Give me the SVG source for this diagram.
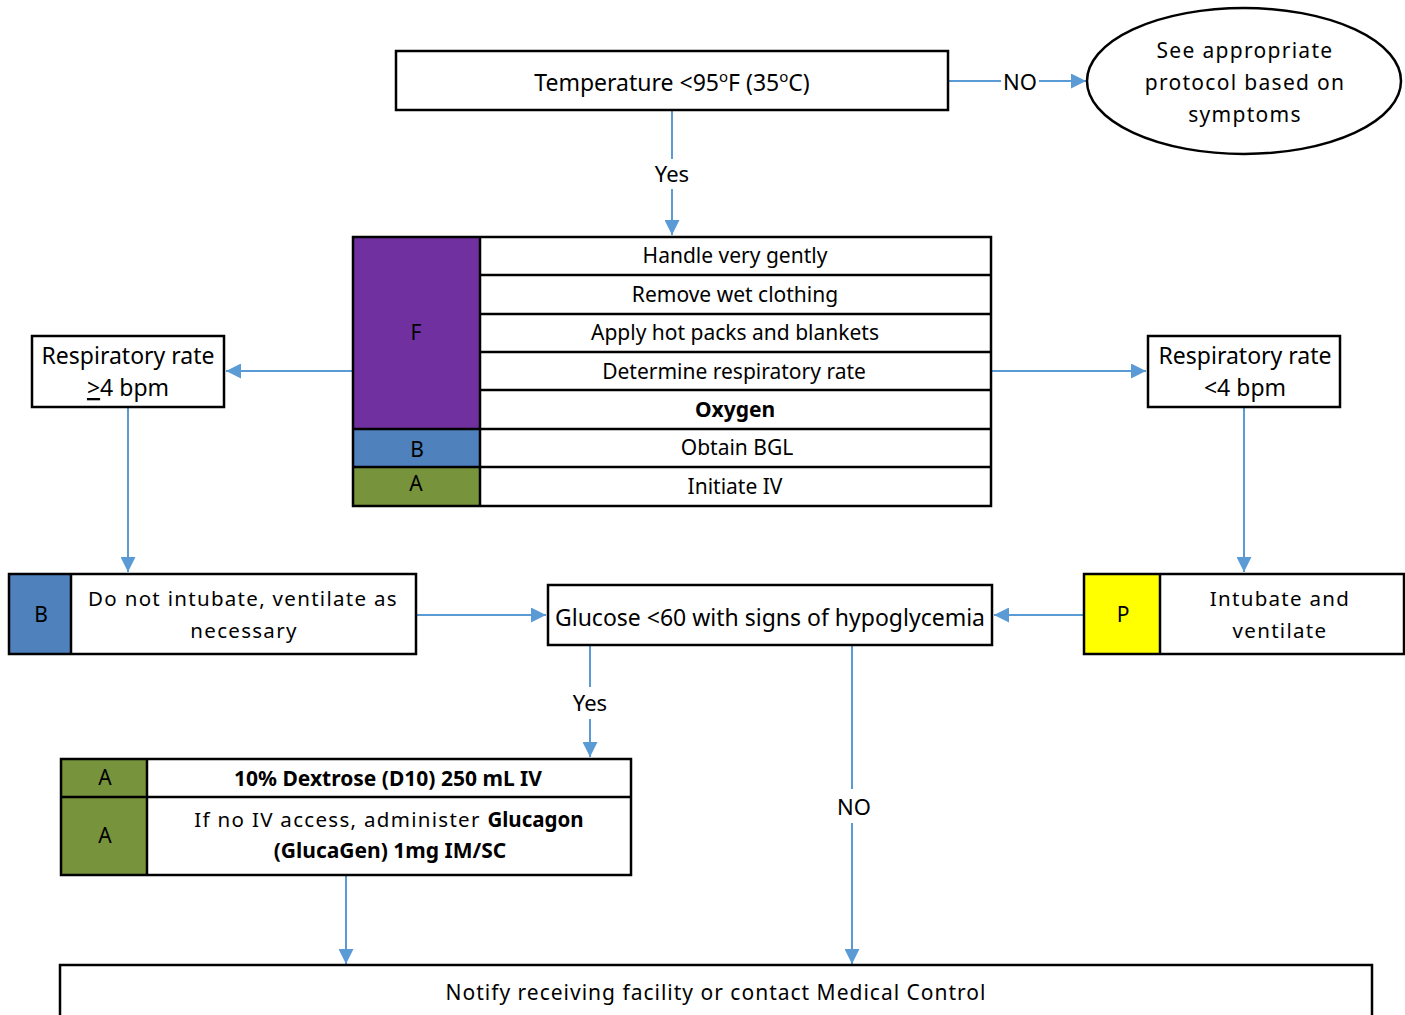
<svg xmlns="http://www.w3.org/2000/svg" width="1405" height="1015" viewBox="0 0 1405 1015">
<defs>
<marker id="ah" viewBox="0 0 10 10" refX="10" refY="5" markerWidth="8" markerHeight="7.5" orient="auto" markerUnits="strokeWidth">
<path d="M0,0 L10,5 L0,10 z" fill="#5B9BD5"/>
</marker>
<style>
.bx{fill:#fff;stroke:#000;stroke-width:2.5}
.cl{stroke:#000;stroke-width:2.5}
.t{font-family:"Noto Sans","Liberation Sans",sans-serif;font-size:21px;fill:#000;text-anchor:middle}
.l{font-size:23px}
.m{font-size:20.5px}
.b{font-weight:bold}
.sp{letter-spacing:1.3px}
.ar{stroke:#5B9BD5;stroke-width:2;fill:none;marker-end:url(#ah)}
.lb{font-family:"Noto Sans","Liberation Sans",sans-serif;font-size:22px;fill:#000;text-anchor:middle}
</style>
</defs>
<rect width="1405" height="1015" fill="#fff"/>

<g id="connectors">
<line class="ar" x1="948" y1="81" x2="1086" y2="81"/>
<rect x="1001" y="68" width="38" height="26" fill="#fff"/>
<text class="lb" x="1020" y="90">NO</text>
<line class="ar" x1="672" y1="110" x2="672" y2="235"/>
<rect x="649" y="159" width="46" height="30" fill="#fff"/>
<text class="lb" x="672" y="182">Yes</text>
<line class="ar" x1="353" y1="371" x2="226" y2="371"/>
<line class="ar" x1="991" y1="371" x2="1146" y2="371"/>
<line class="ar" x1="128" y1="407" x2="128" y2="572"/>
<line class="ar" x1="1244" y1="407" x2="1244" y2="572"/>
<line class="ar" x1="416" y1="615" x2="546" y2="615"/>
<line class="ar" x1="1084" y1="615" x2="994" y2="615"/>
<line class="ar" x1="590" y1="645" x2="590" y2="757"/>
<rect x="567" y="687" width="46" height="32" fill="#fff"/>
<text class="lb" x="590" y="711">Yes</text>
<line class="ar" x1="852" y1="645" x2="852" y2="964"/>
<rect x="831" y="789" width="44" height="34" fill="#fff"/>
<text class="lb" x="854" y="815">NO</text>
<line class="ar" x1="346" y1="875" x2="346" y2="964"/>
</g>

<g id="temperature">
<rect class="bx" x="396" y="51" width="552" height="59"/>
<text class="t l" x="672" y="91">Temperature &lt;95<tspan font-size="15" dy="-9">o</tspan><tspan dy="9">F (35</tspan><tspan font-size="15" dy="-9">o</tspan><tspan dy="9">C)</tspan></text>
</g>

<g id="see-protocol">
<ellipse cx="1244" cy="81" rx="157" ry="73" fill="#fff" stroke="#000" stroke-width="2.5"/>
<text class="t sp" x="1245" y="58">See appropriate</text>
<text class="t sp" x="1245" y="90">protocol based on</text>
<text class="t sp" x="1245" y="122">symptoms</text>
</g>

<g id="initial-care">
<rect x="353" y="237" width="127" height="192" fill="#7030A0"/>
<rect x="353" y="429" width="127" height="38" fill="#4F81BD"/>
<rect x="353" y="467" width="127" height="39" fill="#77933C"/>
<rect x="480" y="237" width="511" height="269" fill="#fff"/>
<rect x="353" y="237" width="638" height="269" fill="none" stroke="#000" stroke-width="2.5"/>
<line class="cl" x1="480" y1="237" x2="480" y2="506"/>
<line class="cl" x1="480" y1="275" x2="991" y2="275"/>
<line class="cl" x1="480" y1="314" x2="991" y2="314"/>
<line class="cl" x1="480" y1="352" x2="991" y2="352"/>
<line class="cl" x1="480" y1="390" x2="991" y2="390"/>
<line class="cl" x1="353" y1="429" x2="991" y2="429"/>
<line class="cl" x1="353" y1="467" x2="991" y2="467"/>
<text class="t" x="416" y="340">F</text>
<text class="t" x="417" y="457">B</text>
<text class="t" x="416" y="491">A</text>
<text class="t" x="735" y="263">Handle very gently</text>
<text class="t" x="735" y="302">Remove wet clothing</text>
<text class="t" x="735" y="340">Apply hot packs and blankets</text>
<text class="t" x="734" y="379">Determine respiratory rate</text>
<text class="t b" x="735" y="417">Oxygen</text>
<text class="t" x="737" y="455">Obtain BGL</text>
<text class="t" x="735" y="494">Initiate IV</text>
</g>

<g id="resp-high">
<rect class="bx" x="32" y="336" width="192" height="71"/>
<text class="t l" x="128" y="364">Respiratory rate</text>
<text class="t l" x="128" y="396"><tspan text-decoration="underline">&gt;</tspan>4 bpm</text>
</g>

<g id="resp-low">
<rect class="bx" x="1148" y="336" width="192" height="71"/>
<text class="t l" x="1245" y="364">Respiratory rate</text>
<text class="t l" x="1245" y="396">&lt;4 bpm</text>
</g>

<g id="no-intubate">
<rect x="9" y="574" width="62" height="80" fill="#4F81BD"/>
<rect x="71" y="574" width="345" height="80" fill="#fff"/>
<rect x="9" y="574" width="407" height="80" fill="none" stroke="#000" stroke-width="2.5"/>
<line class="cl" x1="71" y1="574" x2="71" y2="654"/>
<text class="t" x="41" y="622">B</text>
<text class="t m sp" x="243" y="606">Do not intubate, ventilate as</text>
<text class="t m sp" x="244" y="638">necessary</text>
</g>

<g id="glucose">
<rect class="bx" x="548" y="585" width="444" height="60"/>
<text class="t l" x="770" y="626">Glucose &lt;60 with signs of hypoglycemia</text>
</g>

<g id="intubate">
<rect x="1084" y="574" width="76" height="80" fill="#FFFF00"/>
<rect x="1160" y="574" width="244" height="80" fill="#fff"/>
<rect x="1084" y="574" width="320" height="80" fill="none" stroke="#000" stroke-width="2.5"/>
<line class="cl" x1="1160" y1="574" x2="1160" y2="654"/>
<text class="t" x="1123" y="622">P</text>
<text class="t m sp" x="1280" y="606">Intubate and</text>
<text class="t m sp" x="1280" y="638">ventilate</text>
</g>

<g id="dextrose">
<rect x="61" y="759" width="86" height="116" fill="#77933C"/>
<rect x="147" y="759" width="484" height="116" fill="#fff"/>
<rect x="61" y="759" width="570" height="116" fill="none" stroke="#000" stroke-width="2.5"/>
<line class="cl" x1="147" y1="759" x2="147" y2="875"/>
<line class="cl" x1="61" y1="797" x2="631" y2="797"/>
<text class="t" x="105" y="785">A</text>
<text class="t" x="105" y="843">A</text>
<text class="t b" x="388" y="786">10% Dextrose (D10) 250 mL IV</text>
<text class="t m" x="389" y="827"><tspan class="sp">If no IV access, administer </tspan><tspan class="b">Glucagon</tspan></text>
<text class="t b" x="390" y="858">(GlucaGen) 1mg IM/SC</text>
</g>

<g id="notify">
<rect class="bx" x="60" y="965" width="1312" height="60"/>
<text class="t" x="716" y="1000" letter-spacing="1">Notify receiving facility or contact Medical Control</text>
</g>
</svg>
